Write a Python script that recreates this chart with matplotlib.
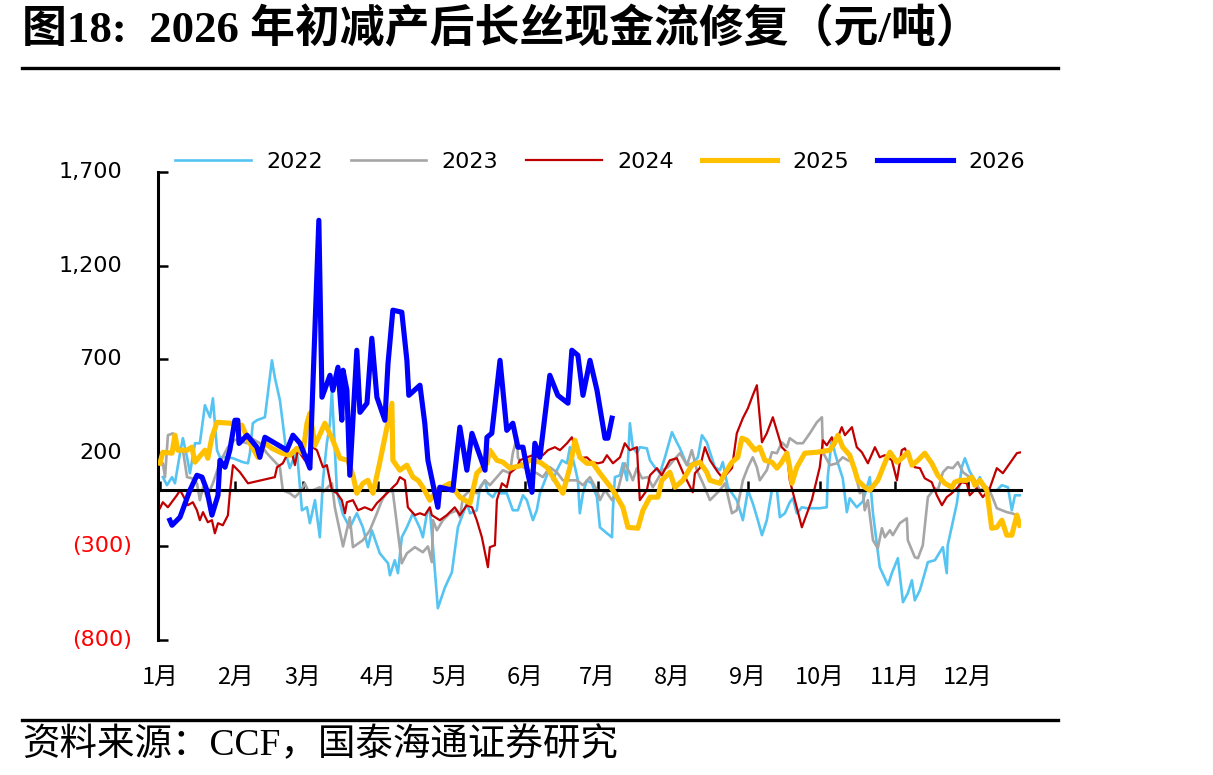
import matplotlib
matplotlib.use('Agg')
import matplotlib.pyplot as plt

# ---------------- data (day of year, 元/吨) ----------------
months = ['1月', '2月', '3月', '4月', '5月', '6月', '7月', '8月', '9月', '10月', '11月', '12月']
month_days = [0, 31, 59, 90, 120, 151, 181, 212, 243, 273, 304, 334]
y_ticks = [-800, -300, 200, 700, 1200, 1700]
y_labels = ['(800)', '(300)', '200', '700', '1,200', '1,700']

d2022 = [1.2, 2.9, 5.0, 6.2, 8.3, 9.5, 11.2, 12.4, 14.5, 16.5, 18.6, 20.7, 21.9, 23.6, 24.8, 27.7, 30.2,
         34.3, 36.4, 37.2, 38.4, 40.1, 43.4, 46.3, 47.5, 49.6, 50.8, 52.5, 53.7, 56.6, 58.7, 60.8, 62.0,
         64.1, 66.1, 67.4, 69.0, 70.3, 71.1, 73.2, 75.7, 78.5, 81.4, 83.9, 86.0, 87.6, 90.9, 94.3, 95.1,
         97.1, 98.4, 100.0, 102.1, 104.6, 107.5, 108.7, 110.4, 111.6, 112.9, 114.9, 117.8, 120.7, 123.2,
         126.9, 128.2, 131.0, 132.3, 134.4, 135.6, 137.7, 139.3, 140.6, 143.4, 145.9, 148.0, 150.1, 151.7,
         154.2, 155.8, 157.1, 159.2, 161.2, 162.5, 164.1, 166.2, 168.3, 169.5, 171.6, 172.8, 173.6, 174.9,
         176.5, 178.6, 180.7, 181.9, 184.8, 186.9, 187.3, 188.1, 190.2, 191.4, 193.1, 194.3, 195.5, 197.2,
         198.4, 201.3, 202.6, 204.6, 206.7, 208.8, 211.7, 213.7, 215.0, 217.9, 220.3, 222.4, 224.1, 226.1,
         229.4, 231.5, 232.7, 234.8, 236.5, 238.5, 239.8, 241.0, 243.1, 245.1, 247.2, 248.9, 250.9, 253.0,
         255.1, 256.3, 258.4, 260.4, 261.7, 263.3, 265.4, 267.5, 272.8, 275.7, 276.1, 277.8, 279.0, 280.3,
         282.3, 284.0, 285.2, 288.1, 290.6, 293.5, 294.8, 297.6, 301.0, 302.6, 305.1, 307.2, 309.2, 310.9,
         312.1, 314.2, 317.5, 320.4, 323.7, 325.3, 325.7, 329.5, 331.5, 332.8, 334.8, 337.7, 339.0, 341.0,
         346.0, 348.1, 350.6, 352.2, 353.5, 355.5]
v2022 = [70, 27, 70, 37, 198, 278, 176, 91, 251, 251, 454, 390, 491, 214, 176, 176, 171,
         150, 144, 198, 358, 374, 390, 694, 603, 481, 358, 176, 118, 214, -107, -91, -176,
         -53, -251, 53, 251, 358, 534, -10, -130, -200, -123, -198, -304, -214, -337, -390, -454,
         -374, -443, -251, -198, -123, -203, -251, -123, -107, -304, -630, -520, -438, -198,
         -69, -123, -107, 16, 53, -16, -37, 0, -16, -16, -107, -107, -27, -53,
         -160, -107, -16, 53, 123, 53, 107, 160, 144, 230, 123, 53, -123, -16,
         53, 37, -37, -198, -230, -251, -100, 70, 80, 144, 53, 358, 230, 198,
         230, 224, 160, 123, 91, 176, 310, 256, 224, 134, 144, 176, 294, 256,
         123, 107, 150, 16, -16, -53, -107, -160, 0, -69, -160, -240, -160, 0,
         0, -144, -123, -64, -43, -123, -91, -96, -96, -91, 70, 278, 203, 144,
         64, -117, -43, -91, -60, 70, -123, -411, -507, -443, -363, -598, -550, -481,
         -588, -534, -384, -374, -304, -443, -294, -69, 123, 171, 100, 37, 70, 0,
         0, 27, 16, -107, -27, -27]

d2023 = [0.0, 1.2, 2.1, 3.3, 5.4, 7.4, 9.5, 11.2, 13.2, 15.3, 16.5, 17.8, 19.4, 21.9, 24.8, 28.1, 31.0,
         36.0, 37.2, 41.3, 44.2, 49.6, 50.8, 53.7, 55.8, 57.9, 59.9, 61.2, 63.2, 66.1, 67.4, 71.1, 72.3,
         75.7, 78.5, 79.8, 83.9, 86.8, 89.7, 91.8, 94.3, 96.3, 100.0, 102.1, 105.4, 108.7, 110.8, 112.4,
         112.9, 114.5, 117.0, 119.9, 122.8, 124.0, 125.3, 128.2, 131.0, 134.4, 136.4, 139.3, 141.8, 144.7,
         145.9, 147.6, 148.0, 150.1, 153.0, 155.8, 158.3, 161.2, 164.1, 166.6, 169.5, 172.4, 174.9, 177.8,
         180.7, 181.9, 184.0, 186.9, 189.3, 192.2, 194.3, 195.5, 197.2, 199.3, 201.7, 203.8, 205.5, 207.9,
         210.0, 211.7, 215.0, 217.9, 219.9, 222.0, 224.5, 227.4, 229.4, 231.5, 233.6, 236.5, 238.5, 241.0,
         243.1, 245.1, 246.8, 248.0, 250.9, 253.0, 255.1, 257.1, 259.2, 260.4, 263.3, 265.8, 268.7, 271.6,
         273.7, 274.1, 277.0, 279.9, 282.3, 284.4, 286.5, 289.4, 290.6, 291.4, 292.7, 294.8, 296.8, 298.5,
         299.7, 301.8, 303.0, 305.9, 308.8, 309.2, 312.1, 313.4, 315.4, 317.5, 320.4, 321.6, 323.7, 325.7,
         327.8, 329.9, 332.0, 334.8, 336.9, 339.0, 341.9, 343.9, 346.0, 348.1, 350.1, 352.2, 354.3]
v2023 = [150, 144, 70, 294, 304, 230, 214, 70, 64, 37, -53, 16, -37, 37, 150, 230, 270,
         251, 283, 251, 198, 123, 0, -16, -37, -10, 37, 0, 0, 16, -10, 37, -91,
         -300, -144, -304, -267, -214, -123, -53, 0, -10, -390, -337, -304, -331, -300, -384,
         -160, -214, -160, -123, -107, -144, -37, 0, -16, 53, 27, 70, 107, 91,
         198, 283, 176, 123, 107, 91, 70, 123, 96, 53, 53, 53, 27, 70,
         0, -53, 0, -53, 0, 144, 91, 53, 118, 64, 70, 16, 53, 107,
         123, 150, 198, 134, 214, 107, 37, -53, -27, 0, 37, -123, -107, 53,
         123, 176, 123, 53, 107, 203, 198, 256, 230, 278, 251, 251, 304, 363,
         390, 203, 134, 144, 176, 160, 150, -16, 0, -107, -53, -267, -310, -203,
         -251, -214, -240, -176, -150, -267, -358, -363, -294, -37, 11, 0, 96, 123,
         118, 150, 96, 70, 53, 0, 16, -27, -96, -107, -117, -123, -133]

d2024 = [0.0, 1.2, 3.3, 7.0, 8.3, 9.5, 11.6, 13.6, 15.3, 16.5, 17.8, 19.8, 21.5, 22.7, 24.0, 26.0, 28.1,
         28.9, 30.2, 33.1, 36.4, 47.5, 48.4, 50.8, 52.5, 54.6, 55.8, 57.0, 59.9, 63.2, 64.9, 67.4, 69.0,
         71.1, 73.2, 75.2, 76.5, 77.3, 79.8, 81.9, 84.7, 87.6, 89.7, 92.2, 94.3, 96.3, 98.0, 99.2, 101.3,
         102.5, 105.4, 107.5, 109.5, 111.6, 112.4, 115.7, 118.6, 121.9, 124.0, 126.9, 129.0, 131.0, 133.1,
         135.6, 136.4, 138.5, 139.3, 141.4, 143.4, 144.7, 147.6, 148.8, 151.7, 154.2, 156.3, 158.3, 160.4,
         163.3, 165.4, 168.3, 170.3, 171.6, 173.6, 176.5, 178.6, 181.1, 183.1, 184.8, 187.3, 190.2, 192.2,
         194.3, 197.2, 198.4, 201.3, 202.6, 205.5, 207.5, 210.8, 213.7, 216.2, 220.3, 221.2, 223.2, 225.3,
         227.4, 230.7, 232.7, 236.5, 238.5, 241.0, 243.1, 245.1, 246.8, 248.9, 250.9, 253.4, 257.1, 259.2,
         260.4, 265.4, 269.5, 272.8, 274.1, 275.7, 277.8, 279.0, 281.9, 283.2, 286.1, 288.1, 290.2, 292.7,
         295.6, 297.6, 299.7, 302.6, 304.7, 306.7, 308.0, 309.2, 312.1, 314.2, 316.2, 319.1, 321.2, 323.3,
         325.3, 327.4, 329.5, 331.5, 333.6, 334.8, 337.7, 340.2, 343.1, 346.0, 348.5, 351.4, 354.3, 356.0]
v2024 = [-96, -64, -91, -27, 0, -27, -80, -64, -107, -160, -117, -171, -160, -230, -176, -187, -134,
         -16, 134, 96, 37, 70, 123, 144, 187, 198, 134, 214, 160, 230, 214, 123, 134,
         0, -16, -53, -123, -64, -53, -107, -91, -107, -69, -37, -11, 16, 37, 70, 53,
         -91, -133, -123, -133, -91, -133, -160, -133, -91, -133, -80, -91, -160, -251,
         -411, -304, -294, -53, 37, 16, 91, 123, 160, 176, 187, 176, 187, 214,
         230, 214, 251, 283, 230, 171, 176, 150, 144, 150, 187, 144, 176, 251,
         214, 230, -53, 0, 80, 118, 80, 160, 171, 96, -11, 91, 118, 230,
         160, 96, 64, 118, 304, 385, 438, 507, 561, 256, 304, 390, 230, 203,
         53, -198, -53, 123, 267, 240, 283, 240, 337, 294, 337, 230, 203, 144,
         230, 176, 187, 160, 53, 214, 224, 187, 123, 118, 64, 43, -27, -80,
         -37, -16, 11, 43, 37, -27, 11, -37, 11, 118, 91, 144, 198, 203]

d2025 = [0.0, 1.2, 5.0, 6.2, 7.4, 11.2, 13.2, 14.5, 18.6, 19.8, 21.5, 23.6, 28.9, 33.9, 36.0, 37.2, 40.5,
         43.4, 46.3, 50.4, 53.7, 56.6, 59.1, 60.8, 62.0, 64.1, 68.2, 71.5, 74.4, 77.7, 79.8, 81.4, 83.9,
         86.0, 88.1, 90.9, 93.0, 95.9, 96.3, 99.2, 102.1, 104.6, 106.7, 108.7, 111.6, 114.5, 119.9, 124.0,
         128.2, 131.0, 135.2, 136.4, 139.3, 141.8, 144.7, 150.1, 153.0, 157.1, 160.0, 164.1, 166.6, 169.5,
         171.6, 173.6, 176.5, 179.0, 181.9, 187.3, 191.4, 193.5, 197.6, 199.7, 202.6, 205.9, 207.5, 210.8,
         212.9, 216.2, 219.9, 223.2, 226.1, 227.4, 231.5, 233.6, 236.5, 238.9, 240.6, 242.7, 246.0, 248.0,
         250.1, 253.0, 255.1, 257.1, 259.2, 260.4, 261.3, 263.3, 266.6, 271.6, 277.0, 279.0, 280.3, 282.3,
         285.2, 287.3, 288.5, 291.4, 293.5, 296.8, 300.5, 301.8, 304.7, 307.2, 309.2, 310.9, 313.4, 316.2,
         319.1, 321.6, 324.5, 327.4, 328.6, 330.7, 333.6, 335.7, 336.9, 339.0, 341.9, 343.1, 343.9, 346.0,
         348.1, 350.1, 352.2, 354.3, 355.5]
v2025 = [144, 203, 198, 294, 214, 214, 230, 150, 214, 171, 283, 363, 358, 347, 283, 251, 176,
         251, 224, 198, 187, 224, 198, 358, 411, 240, 358, 267, 171, 160, 80, -16, 37,
         53, -16, 150, 283, 465, 160, 107, 134, 70, 53, 16, -53, 0, 37, -37,
         -69, 91, 144, 214, 160, 150, 118, 134, 160, 150, 123, 37, -16, 123,
         267, 176, 144, 144, 91, 0, -91, -198, -203, -107, -37, -37, 53, 96,
         16, 53, 134, 150, 96, 53, 37, 91, 150, 176, 278, 267, 214, 230,
         160, 150, 118, 150, 198, 123, 37, 123, 198, 203, 214, 256, 294, 230,
         187, 107, 53, 16, 0, 53, 171, 203, 150, 176, 203, 134, 160, 198,
         144, 80, 37, 16, 43, 53, 53, 70, 27, 53, 0, -123, -203, -198,
         -160, -240, -240, -133, -187]

d2026 = [4.1, 5.0, 8.3, 12.4, 15.3, 17.4, 19.4, 21.5, 24.0, 24.8, 26.9, 28.9, 31.0, 32.2, 32.7, 36.0,
         40.1, 41.3, 43.4, 52.5, 55.0, 57.9, 62.0, 65.7, 67.0, 70.3, 71.5, 73.6, 75.2, 75.7, 77.3, 78.5,
         81.4, 82.7, 85.6, 87.6, 89.7, 93.0, 94.3, 96.3, 100.0, 102.1, 102.9, 107.5, 109.5, 110.8, 114.9,
         115.7, 121.1, 124.0, 126.9, 129.0, 134.4, 135.2, 137.2, 140.6, 143.4, 145.9, 148.0, 150.1, 152.1,
         153.8, 155.0, 157.1, 158.3, 161.2, 164.5, 168.7, 170.3, 172.8, 174.9, 177.8, 180.7, 184.0, 185.2,
         186.9]
v2026 = [-160, -187, -144, 0, 80, 70, 0, -133, -27, 160, 123, 214, 374, 374, 250, 294,
         230, 176, 283, 214, 294, 251, 118, 1442, 497, 614, 534, 657, 374, 641, 534, 80,
         748, 416, 465, 812, 497, 374, 678, 962, 951, 694, 507, 561, 358, 160, -91,
         16, 0, 337, 107, 304, 107, 283, 304, 694, 320, 358, 230, 230, 91,
         -11, 251, 176, 304, 614, 507, 465, 748, 721, 507, 694, 534, 278, 278,
         385]

series = [
    ('2022', d2022, v2022, '#55C4F2', 1.9, 2),
    ('2023', d2023, v2023, '#A6A6A6', 1.9, 2),
    ('2024', d2024, v2024, '#C00000', 1.6, 2),
    ('2025', d2025, v2025, '#FFC000', 3.7, 3),
    ('2026', d2026, v2026, '#0000FF', 3.7, 4),
]

W, H = 1213, 775
fig = plt.figure(figsize=(W / 100, H / 100), dpi=100)
ax = fig.add_axes([158 / W, 135 / H, 863 / W, 468 / H])

for name, d, v, c, lw, z in series:
    ax.plot(d, v, color=c, lw=lw, label=name, zorder=z, solid_joinstyle='round')

ax.set_xlim(-0.8, 356)
ax.set_ylim(-800, 1700)
for s in ['top', 'right']:
    ax.spines[s].set_visible(False)
ax.spines['left'].set_linewidth(2.2)
ax.spines['bottom'].set_position(('data', 0))
ax.spines['bottom'].set_linewidth(2.2)
ax.spines['bottom'].set_zorder(2.5)

ax.set_xticks(month_days)
ax.tick_params(axis='x', direction='in', length=6.5, width=1.8, labelbottom=False)
ax.set_yticks(y_ticks)
ax.tick_params(axis='y', direction='in', length=7, width=1.8, labelleft=False)

# y labels
for val, lab in zip(y_ticks, y_labels):
    neg = val < 0
    ax.text(-0.030 if neg else -0.0417, val, lab, transform=ax.get_yaxis_transform(),
            ha='right', va='center', fontsize=16, color='#FF0000' if neg else 'black',
            family=['DejaVu Sans'])

# month labels
for d, m in zip(month_days, months):
    ax.text(d, -0.079, m, transform=ax.get_xaxis_transform(), ha='center', va='center',
            fontsize=17, family=['Liberation Sans Narrow', 'Noto Sans CJK SC'])

leg = fig.legend(loc='center', bbox_to_anchor=(600 / W, 1 - 162 / H), ncol=5, frameon=False,
                 handlelength=3.4, handletextpad=0.7, columnspacing=1.25,
                 prop={'family': ['Liberation Sans Narrow', 'DejaVu Sans'], 'size': 16})

# title, rules, source
fig.text(22 / W, 1 - 30 / H, '图18:  2026 年初减产后长丝现金流修复（元/吨）', ha='left', va='center',
         fontsize=32.3, fontweight='bold', family=['Liberation Serif', 'Noto Sans CJK SC'])
fig.add_artist(plt.Line2D([22 / W, 1058 / W], [1 - 68 / H, 1 - 68 / H], color='black', lw=2.4))
fig.add_artist(plt.Line2D([22 / W, 1058 / W], [1 - 720 / H, 1 - 720 / H], color='black', lw=2.4))
fig.text(22 / W, 1 - 745 / H, '资料来源：CCF，国泰海通证券研究', ha='left', va='center',
         fontsize=27, family=['Liberation Serif', 'Noto Sans CJK SC'])

fig.savefig('out.png', dpi=100)
